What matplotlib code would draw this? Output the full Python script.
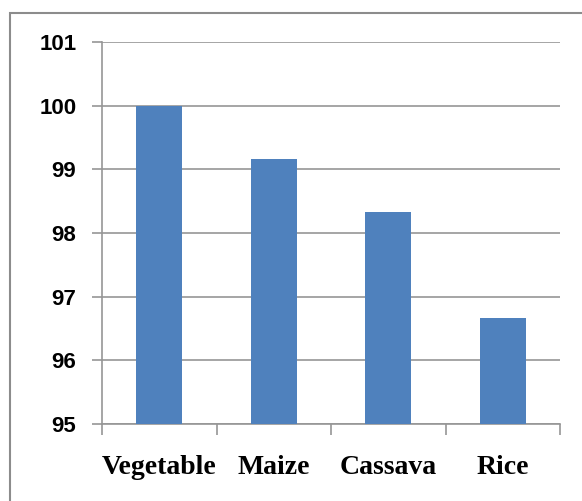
import matplotlib.pyplot as plt
from matplotlib.patches import Rectangle

# data
crops = ['Vegetable', 'Maize', 'Cassava', 'Rice']
values = [100.0, 99.17, 98.33, 96.67]
yticks = [95, 96, 97, 98, 99, 100, 101]

bar_color = '#4F81BD'
grid_color = '#969696'

fig = plt.figure(figsize=(5.82, 5.01), dpi=100)
# plot area in pixels: x 102..560, y 42..424
ax = fig.add_axes([102/582, 1 - 424/501, 458/582, 382/501])

x = list(range(len(crops)))
ax.bar(x, values, width=0.4, color=bar_color, bottom=0, zorder=3)
ax.set_xlim(-0.5, len(crops) - 0.5)
ax.set_ylim(95, 101)

ax.set_yticks(yticks)
ax.set_yticklabels([str(t) for t in yticks], fontfamily='Liberation Sans',
                   fontweight='bold', fontsize=16)
ax.yaxis.grid(True, color=grid_color, linewidth=1.2, zorder=0)
ax.set_axisbelow(True)

# category labels centred, ticks at category boundaries
ax.set_xticks([i - 0.5 for i in range(len(crops) + 1)])
ax.set_xticklabels([])
ax.set_xticks(x, minor=True)
ax.set_xticklabels(crops, minor=True, fontfamily='Liberation Serif',
                   fontweight='bold', fontsize=20)
ax.tick_params(axis='x', which='minor', length=0, pad=22)
ax.tick_params(axis='x', which='major', length=8, width=1.2, color=grid_color, direction='out')
ax.tick_params(axis='y', length=7, width=1.2, color=grid_color, direction='out', pad=11.5)

for side in ['top', 'right']:
    ax.spines[side].set_visible(False)
for side in ['left', 'bottom']:
    ax.spines[side].set_color(grid_color)
    ax.spines[side].set_linewidth(1.2)

# outer chart border (right and bottom edges run off the image)
fig.patches.append(Rectangle((10/582, -0.1), 1.2, 1.1 - 13/501,
                             transform=fig.transFigure, fill=False,
                             edgecolor='#8C8C8C', linewidth=1.5))

fig.savefig('out.png', dpi=100)
